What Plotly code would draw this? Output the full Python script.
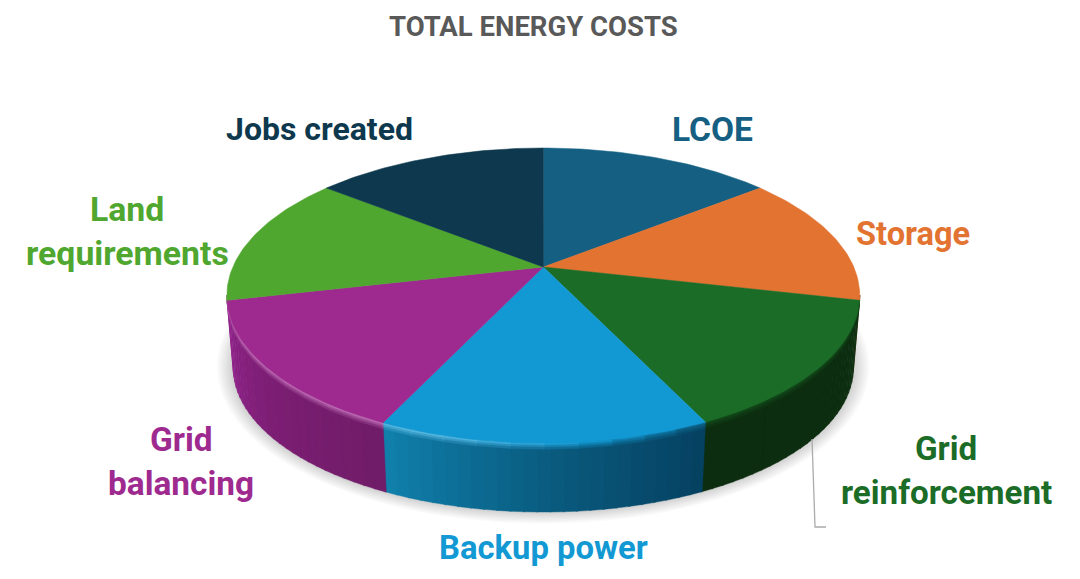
import math
import plotly.graph_objects as go

# ---- data ----
categories = ["LCOE", "Storage", "Grid reinforcement", "Backup power",
              "Grid balancing", "Land requirements", "Jobs created"]
values = [14.3, 14.3, 14.3, 14.1, 14.4, 14.3, 14.3]
title_text = "TOTAL ENERGY COSTS"

# ---- styles ----
top_colors = ["#156082", "#E37331", "#1B6C27", "#1299D3", "#9E2A90", "#4FA72F", "#0D384D"]
# wall colour at slice start and slice end (clockwise)
wall_stops = [
    [(15, 70, 95), (15, 70, 95)],
    [(120, 62, 28), (120, 62, 28)],
    [(12, 45, 15), (12, 45, 15)],
    [(5, 64, 96), (10, 92, 128), (16, 128, 172)],
    [(112, 28, 104), (124, 30, 116), (146, 36, 140)],
    [(146, 36, 140), (146, 36, 140)],
    [(8, 40, 55), (8, 40, 55)],
]
label_lines = [["LCOE"], ["Storage"], ["Grid", "reinforcement"], ["Backup power"],
               ["Grid", "balancing"], ["Land", "requirements"], ["Jobs created"]]
label_xy = [(712, 129), (913, 234), (946, 470), (543, 548), (181, 461), (127, 231), (319, 129)]
label_color = ["#156082", "#E37331", "#1B6C27", "#1299D3", "#9E2A90", "#4FA72F", "#0D384D"]
label_size = [33.5, 32.6, 33.2, 32.8, 33.4, 33.8, 32]

# ---- projection of the pie (camera) ----
CX, CY, R, H, K = 543.3, 267.0, 310.5, 142.0, 0.1932
S, DY = 0.98, 72.6


def top_pt(a):
    X, Y = math.sin(a), math.cos(a)
    w = 1 + K * Y
    return CX + R * X / w, CY - H * Y / w


def bot_pt(a):
    x, y = top_pt(a)
    return CX + S * (x - CX), CY + S * (y - CY) + DY


def lerp(p, q, t):
    return tuple(p[i] + (q[i] - p[i]) * t for i in range(len(p)))


def rgb(c):
    return "rgb(%d,%d,%d)" % tuple(round(v) for v in c)


def hex2(c):
    return tuple(int(c[i:i + 2], 16) for i in (1, 3, 5))


def stops_at(st, f):
    f = max(0, min(1, f)) * (len(st) - 1)
    i = min(int(f), len(st) - 2)
    return lerp(st[i], st[i + 1], f - i)


def poly(fig, pts, color, lw=0.6, opacity=1.0):
    fig.add_trace(go.Scatter(
        x=[p[0] for p in pts] + [pts[0][0]],
        y=[p[1] for p in pts] + [pts[0][1]],
        mode="lines", fill="toself", fillcolor=color,
        line=dict(color=color, width=lw), opacity=opacity,
        hoverinfo="skip", showlegend=False))


fig = go.Figure()
total = sum(values)
edges = [0.0]
for v in values:
    edges.append(edges[-1] + v / total * 2 * math.pi)

# soft shadow under the pie
outline = [bot_pt(math.radians(d)) for d in range(0, 360, 3)]
SHC = (CX + 3, 376.0)
for i in range(9, 0, -1):
    sc = 1 + i * 0.0058
    pts = [(SHC[0] + (x - SHC[0]) * sc, SHC[1] + (y - SHC[1]) * (1 + i * 0.0095)) for x, y in outline]
    poly(fig, pts, "rgba(0,0,0,0.02)", lw=0)

a0, a1 = math.radians(101), math.radians(259)


def chunks(step):
    """Angular chunks of the visible wall, never crossing a slice boundary."""
    out = []
    for s in range(len(values)):
        lo, hi = max(edges[s], a0), min(edges[s + 1], a1)
        if hi <= lo:
            continue
        m = max(1, int(round((hi - lo) / step)))
        for j in range(m):
            out.append((lo + (hi - lo) * j / m, lo + (hi - lo) * (j + 1) / m, s))
    return out


# side walls, painted in passes from the full height up to the thin rim
PASSES = [(1.0, None, math.radians(2.0)), (0.09, 0.70, math.radians(5.0)),
          (0.055, 0.35, math.radians(5.0)), (0.025, 0.0, math.radians(5.0))]
for t_end, mix, step in PASSES:
    for a, b, s in chunks(step):
        mid = (a + b) / 2
        f = (mid - edges[s]) / (edges[s + 1] - edges[s])
        wall = stops_at(wall_stops[s], f)
        top = hex2(top_colors[s])
        x_mid = top_pt(mid)[0]
        if x_mid < CX + 40:
            rim = lerp(top, (255, 255, 255), max(0.0, min(0.28, (CX + 40 - x_mid) / 500)))
        else:
            rim = lerp(top, (0, 0, 0), min(0.35, (x_mid - CX - 40) / 300))
        c = wall if mix is None else lerp(rim, wall, mix)
        b2 = min(b + 0.004, a1)
        angs = [a + (b2 - a) * j / 6 for j in range(7)]
        upper = [top_pt(x) for x in angs]
        lower = [lerp(top_pt(x), bot_pt(x), t_end) for x in reversed(angs)]
        poly(fig, upper + lower, rgb(c), lw=0.4)

# top faces
for s in range(len(values)):
    m = max(4, int((edges[s + 1] - edges[s]) / math.radians(1)))
    arc = [top_pt(edges[s] + (edges[s + 1] - edges[s]) * j / m) for j in range(m + 1)]
    poly(fig, [(CX, CY)] + arc, top_colors[s], lw=0.5)

# leader line of "Grid reinforcement"
leader_x = [812, 815, 826]
leader_y = [439, 527, 527]
fig.add_trace(go.Scatter(x=leader_x, y=leader_y, mode="lines",
                         line=dict(color="#ABABAB", width=1.3),
                         hoverinfo="skip", showlegend=False))

annotations = [dict(x=533.5, y=26, text="<b>%s</b>" % title_text, showarrow=False,
                    font=dict(family="Roboto", size=27.5, color="#595959"),
                    xanchor="center", yanchor="middle")]
LINE_GAP = 44
for lines, (x, y), c, fs in zip(label_lines, label_xy, label_color, label_size):
    for j, t in enumerate(lines):
        yy = y + (j - (len(lines) - 1) / 2) * LINE_GAP
        annotations.append(dict(x=x, y=yy, text="<b>%s</b>" % t, showarrow=False,
                                font=dict(family="Roboto", size=fs, color=c),
                                xanchor="center", yanchor="middle"))

fig.update_layout(
    width=1080, height=579, margin=dict(l=0, r=0, t=0, b=0),
    paper_bgcolor="white", plot_bgcolor="white", showlegend=False,
    xaxis=dict(range=[0, 1080], visible=False, fixedrange=True),
    yaxis=dict(range=[579, 0], visible=False, fixedrange=True),
    annotations=annotations)

fig.write_html("out.html", config={"displayModeBar": False},
               post_script="document.body.style.margin='0';document.body.style.overflow='hidden';")
